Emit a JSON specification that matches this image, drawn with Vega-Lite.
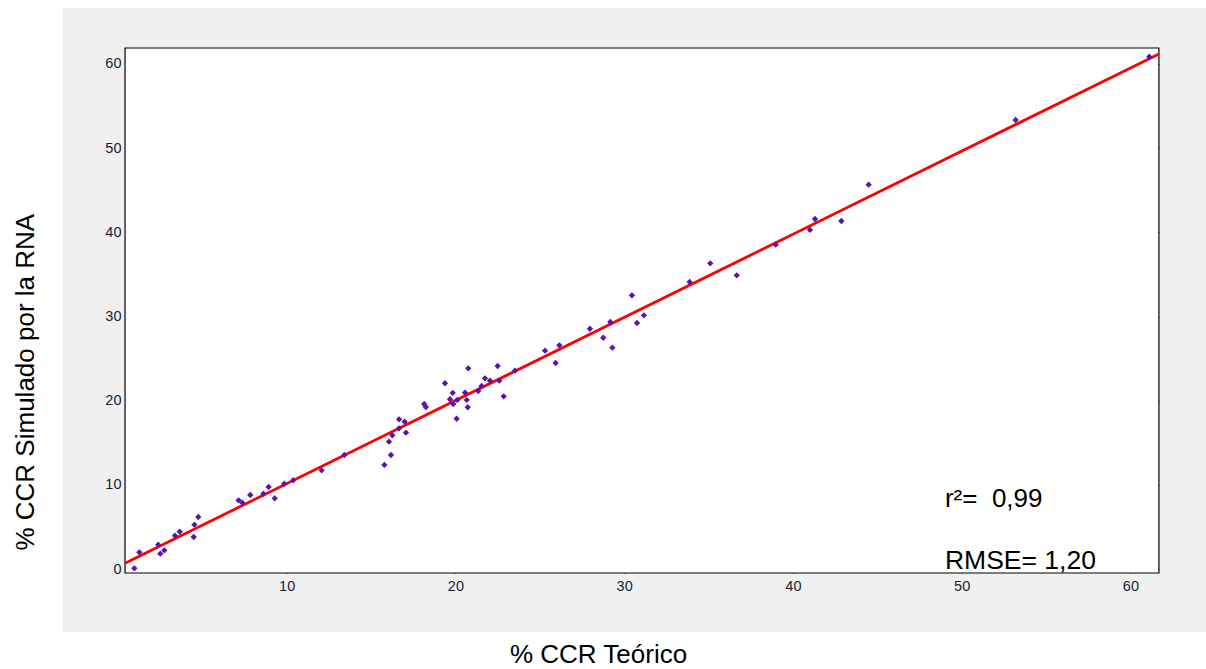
{
  "$schema": "https://vega.github.io/schema/vega-lite/v6.json",
  "width": 1143,
  "height": 624,
  "autosize": {"type": "none"},
  "padding": {"left": 63, "top": 8, "right": 0, "bottom": 37},
  "background": "white",
  "view": {"fill": "#f0f0f0", "stroke": null},
  "config": {
    "axis": {"grid": false, "domain": false, "tickColor": "#000000", "tickWidth": 1, "labelFont": "Liberation Sans Narrow, Arial Narrow, Liberation Sans, sans-serif", "labelFontSize": 14.5, "labelColor": "#1c1c30", "titleFont": "Liberation Sans, Arial, sans-serif", "titleFontSize": 26, "titleFontWeight": "normal", "titleColor": "#000000"}
  },
  "datasets": {
    "points": [
      {"teorico": 0.97, "simulado": 0.1},
      {"teorico": 1.27, "simulado": 2.0},
      {"teorico": 2.39, "simulado": 2.9},
      {"teorico": 2.51, "simulado": 1.84},
      {"teorico": 2.75, "simulado": 2.24},
      {"teorico": 3.38, "simulado": 3.98},
      {"teorico": 3.66, "simulado": 4.45},
      {"teorico": 4.49, "simulado": 3.82},
      {"teorico": 4.53, "simulado": 5.29},
      {"teorico": 4.76, "simulado": 6.2},
      {"teorico": 7.15, "simulado": 8.18},
      {"teorico": 7.37, "simulado": 7.9},
      {"teorico": 7.84, "simulado": 8.81},
      {"teorico": 8.62, "simulado": 8.97},
      {"teorico": 8.93, "simulado": 9.76},
      {"teorico": 9.29, "simulado": 8.42},
      {"teorico": 9.86, "simulado": 10.15},
      {"teorico": 10.39, "simulado": 10.56},
      {"teorico": 12.07, "simulado": 11.74},
      {"teorico": 13.42, "simulado": 13.56},
      {"teorico": 15.79, "simulado": 12.38},
      {"teorico": 16.06, "simulado": 15.14},
      {"teorico": 16.18, "simulado": 13.56},
      {"teorico": 16.26, "simulado": 15.9},
      {"teorico": 16.66, "simulado": 17.8},
      {"teorico": 16.66, "simulado": 16.73},
      {"teorico": 16.99, "simulado": 17.52},
      {"teorico": 17.07, "simulado": 16.21},
      {"teorico": 18.15, "simulado": 19.62},
      {"teorico": 18.25, "simulado": 19.26},
      {"teorico": 19.38, "simulado": 22.08},
      {"teorico": 19.68, "simulado": 20.18},
      {"teorico": 19.84, "simulado": 20.93},
      {"teorico": 19.87, "simulado": 19.62},
      {"teorico": 20.07, "simulado": 17.87},
      {"teorico": 20.11, "simulado": 20.1},
      {"teorico": 20.57, "simulado": 20.96},
      {"teorico": 20.67, "simulado": 20.1},
      {"teorico": 20.73, "simulado": 19.23},
      {"teorico": 20.76, "simulado": 23.86},
      {"teorico": 21.35, "simulado": 21.16},
      {"teorico": 21.55, "simulado": 21.76},
      {"teorico": 21.75, "simulado": 22.67},
      {"teorico": 22.05, "simulado": 22.39},
      {"teorico": 22.5, "simulado": 24.13},
      {"teorico": 22.6, "simulado": 22.39},
      {"teorico": 22.86, "simulado": 20.53},
      {"teorico": 23.53, "simulado": 23.58},
      {"teorico": 25.31, "simulado": 25.95},
      {"teorico": 25.94, "simulado": 24.49},
      {"teorico": 26.16, "simulado": 26.59},
      {"teorico": 27.97, "simulado": 28.56},
      {"teorico": 28.76, "simulado": 27.49},
      {"teorico": 29.18, "simulado": 29.36},
      {"teorico": 29.3, "simulado": 26.31},
      {"teorico": 30.46, "simulado": 32.53},
      {"teorico": 30.76, "simulado": 29.24},
      {"teorico": 31.17, "simulado": 30.15},
      {"teorico": 33.88, "simulado": 34.11},
      {"teorico": 35.1, "simulado": 36.33},
      {"teorico": 36.67, "simulado": 34.9},
      {"teorico": 38.98, "simulado": 38.54},
      {"teorico": 41.01, "simulado": 40.29},
      {"teorico": 41.31, "simulado": 41.59},
      {"teorico": 42.87, "simulado": 41.35},
      {"teorico": 44.49, "simulado": 45.67},
      {"teorico": 53.2, "simulado": 53.35},
      {"teorico": 61.12, "simulado": 60.87}
    ],
    "fit": [
      {"teorico": 0.42, "ajuste": 0.7},
      {"teorico": 61.69, "ajuste": 61.19}
    ]
  },
  "resolve": {"axis": {"x": "independent", "y": "independent"}},
  "layer": [
    {
      "data": {"values": [{}]},
      "mark": {"type": "rect", "fill": "white", "stroke": "#000000", "strokeWidth": 1.2},
      "encoding": {
        "x": {"datum": 0.42, "type": "quantitative", "scale": {"domain": [-3.256, 64.48], "nice": false, "zero": false},
          "axis": {"orient": "bottom", "offset": -59, "values": [10, 20, 30, 40, 50, 60], "tickSize": -11, "labelPadding": 17,
            "title": "% CCR Teórico", "titleX": 535, "titleY": 89, "titleBaseline": "alphabetic", "titleAlign": "center", "titleAnchor": null}},
        "x2": {"datum": 61.69},
        "y": {"datum": -0.45, "type": "quantitative", "scale": {"domain": [-7.46, 66.65], "nice": false, "zero": false},
          "axis": {"orient": "left", "offset": -62, "values": [0, 10, 20, 30, 40, 50, 60], "tickSize": -11, "labelPadding": 15,
            "title": "% CCR Simulado por la RNA", "titleX": -91.7, "titleY": 373.7, "titleAngle": -90, "titleBaseline": "alphabetic", "titleAlign": "center", "titleAnchor": null}},
        "y2": {"datum": 61.9}
      }
    },
    {
      "data": {"name": "fit"},
      "mark": {"type": "line", "color": "#ff0000", "strokeWidth": 2.8},
      "encoding": {
        "x": {"field": "teorico", "type": "quantitative",
          "axis": {"orient": "top", "offset": -40, "values": [10, 20, 30, 40, 50, 60], "tickSize": -11, "labels": false, "title": null}},
        "y": {"field": "ajuste", "type": "quantitative",
          "axis": {"orient": "right", "offset": -47, "values": [0, 10, 20, 30, 40, 50, 60], "tickSize": -11, "labels": false, "title": null}}
      }
    },
    {
      "data": {"name": "points"},
      "mark": {"type": "point", "shape": "diamond", "filled": true, "size": 40, "color": "#5a12b0", "opacity": 1},
      "encoding": {
        "x": {"field": "teorico", "type": "quantitative", "axis": null},
        "y": {"field": "simulado", "type": "quantitative", "axis": null}
      }
    },
    {
      "data": {"values": [{}]},
      "mark": {"type": "text", "align": "left", "baseline": "alphabetic", "font": "Liberation Sans, Arial, sans-serif", "fontSize": 26, "color": "#000000"},
      "encoding": {
        "x": {"datum": 49.01, "type": "quantitative", "axis": null},
        "y": {"datum": 7.42, "type": "quantitative", "axis": null},
        "text": {"value": "r²=\u00a0\u00a00,99"}
      }
    },
    {
      "data": {"values": [{}]},
      "mark": {"type": "text", "align": "left", "baseline": "alphabetic", "font": "Liberation Sans, Arial, sans-serif", "fontSize": 26.5, "color": "#000000"},
      "encoding": {
        "x": {"datum": 49.01, "type": "quantitative", "axis": null},
        "y": {"datum": 0.0, "type": "quantitative", "axis": null},
        "text": {"value": "RMSE= 1,20"}
      }
    }
  ]
}
